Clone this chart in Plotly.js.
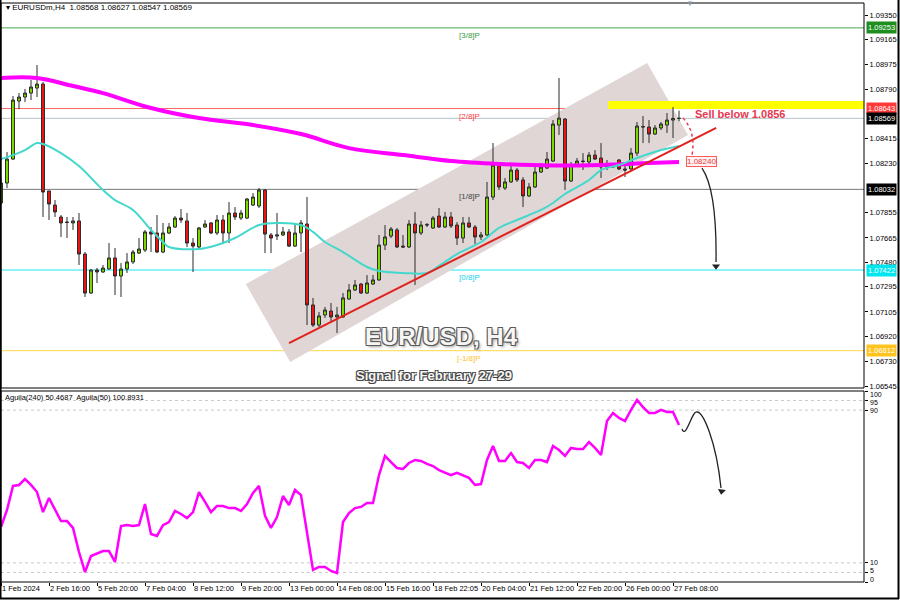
<!DOCTYPE html>
<html><head><meta charset="utf-8">
<script src="https://cdn.plot.ly/plotly-3.0.1.min.js"></script>
<style>html,body{margin:0;padding:0;background:#fff}#chart{width:900px;height:600px}</style>
</head><body><div id="chart"></div>
<script>
// ---- candle data (EURUSDm, H4) ----
const openP=[1.07929,1.08080,1.08261,1.08700,1.08730,1.08760,1.08798,1.08828,1.08020,1.07913,
1.07823,1.07785,1.07778,1.07793,1.07543,1.07248,1.07422,1.07407,1.07430,1.07513,
1.07377,1.07430,1.07483,1.07550,1.07573,1.07710,1.07702,1.07558,1.07702,1.07747,
1.07815,1.07793,1.07626,1.07596,1.07747,1.07778,1.07702,1.07800,1.07702,1.07853,
1.07815,1.07815,1.07913,1.07906,1.08027,1.07687,1.07679,1.07687,1.07710,1.07603,
1.07702,1.07770,1.07158,1.07006,1.07082,1.07112,1.07067,1.07067,1.07203,1.07271,
1.07316,1.07248,1.07316,1.07347,1.07611,1.07679,1.07725,1.07603,1.07596,1.07770,
1.07702,1.07762,1.07740,1.07830,1.07747,1.07823,1.07762,1.07664,1.07778,1.07747,
1.07672,1.07687,1.07974,1.08216,1.08042,1.08088,1.08178,1.08103,1.07982,1.08050,
1.08163,1.08193,1.08246,1.08518,1.08564,1.08095,1.08216,1.08246,1.08239,1.08291,
1.08269,1.08201,1.08216,1.08254,1.08186,1.08186,1.08306,1.08503,1.08503,1.08450,
1.08496,1.08518,1.08556,1.08568];
const highP=[1.08118,1.08314,1.08738,1.08760,1.08791,1.08859,1.08972,1.08844,1.08020,1.07951,
1.07838,1.07823,1.07823,1.07853,1.07558,1.07430,1.07437,1.07460,1.07626,1.07588,
1.07475,1.07550,1.07573,1.07664,1.07725,1.07747,1.07838,1.07778,1.07778,1.07830,
1.07883,1.07853,1.07664,1.07747,1.07800,1.07785,1.07838,1.07838,1.07936,1.07898,
1.07876,1.07966,1.08004,1.08042,1.08035,1.07702,1.07853,1.07747,1.07732,1.07778,
1.07800,1.07974,1.07211,1.07105,1.07143,1.07173,1.07143,1.07248,1.07316,1.07347,
1.07324,1.07384,1.07384,1.07687,1.07762,1.07747,1.07740,1.07687,1.07800,1.07861,
1.07793,1.07778,1.07830,1.07891,1.07861,1.07861,1.07785,1.07823,1.07823,1.07762,
1.07710,1.08088,1.08382,1.08231,1.08118,1.08231,1.08193,1.08125,1.08080,1.08201,
1.08231,1.08314,1.08556,1.08874,1.08571,1.08239,1.08269,1.08306,1.08314,1.08329,
1.08382,1.08254,1.08231,1.08261,1.08216,1.08344,1.08541,1.08586,1.08556,1.08518,
1.08541,1.08609,1.08654,1.08627];
const lowP=[1.07913,1.08042,1.08254,1.08639,1.08692,1.08707,1.08730,1.07823,1.07800,1.07823,
1.07672,1.07664,1.07725,1.07460,1.07218,1.07241,1.07324,1.07400,1.07425,1.07233,
1.07218,1.07400,1.07468,1.07543,1.07558,1.07558,1.07550,1.07550,1.07694,1.07740,
1.07778,1.07596,1.07407,1.07588,1.07740,1.07694,1.07687,1.07618,1.07626,1.07800,
1.07800,1.07808,1.07906,1.07891,1.07550,1.07550,1.07649,1.07679,1.07596,1.07596,
1.07558,1.07006,1.06991,1.06991,1.07060,1.07029,1.06946,1.07060,1.07196,1.07263,
1.07241,1.07241,1.07309,1.07340,1.07573,1.07664,1.07588,1.07588,1.07588,1.07309,
1.07687,1.07747,1.07732,1.07740,1.07740,1.07740,1.07611,1.07626,1.07740,1.07618,
1.07649,1.07679,1.07951,1.08027,1.08027,1.08080,1.08088,1.07898,1.07974,1.08042,
1.08156,1.08186,1.08239,1.08443,1.08027,1.08088,1.08208,1.08178,1.08201,1.08254,
1.08118,1.08178,1.08193,1.08178,1.08125,1.08178,1.08284,1.08382,1.08382,1.08443,
1.08480,1.08458,1.08420,1.08547];
const closeP=[1.08080,1.08261,1.08707,1.08730,1.08760,1.08806,1.08828,1.08012,1.07921,1.07861,
1.07778,1.07782,1.07793,1.07543,1.07248,1.07422,1.07407,1.07437,1.07513,1.07377,
1.07430,1.07483,1.07558,1.07581,1.07710,1.07694,1.07558,1.07702,1.07747,1.07815,
1.07800,1.07626,1.07603,1.07740,1.07770,1.07702,1.07800,1.07702,1.07853,1.07823,
1.07853,1.07959,1.07974,1.08027,1.07694,1.07664,1.07687,1.07710,1.07603,1.07702,
1.07778,1.07158,1.07006,1.07075,1.07120,1.07067,1.07082,1.07211,1.07271,1.07309,
1.07248,1.07324,1.07347,1.07611,1.07672,1.07732,1.07596,1.07596,1.07770,1.07702,
1.07762,1.07765,1.07815,1.07747,1.07823,1.07755,1.07664,1.07778,1.07747,1.07672,
1.07687,1.07974,1.08216,1.08050,1.08088,1.08178,1.08103,1.07982,1.08050,1.08163,
1.08201,1.08261,1.08526,1.08571,1.08095,1.08216,1.08246,1.08243,1.08291,1.08261,
1.08201,1.08224,1.08201,1.08186,1.08178,1.08306,1.08511,1.08506,1.08450,1.08496,
1.08526,1.08556,1.08568,1.08569];

// ---- moving averages (read at sample bars) ----
const maSlowIdx=[0,6,12,17,25,33,42,50,58,67,75,83,92,100,108,113];
const maSlowVal=[1.08874,1.08874,1.08813,1.08760,1.08647,1.08571,1.08518,1.08450,1.08344,1.08291,1.08246,1.08224,1.08212,1.08216,1.08231,1.08239];
const maFastIdx=[0,2,4,6,7,10,13,17,19,22,25,27,28,33,36,39,43,46,50,52,54,57,61,63,67,71,73,76,80,83,86,90,92,94,98,100,103,106,110,113];
const maFastVal=[1.08261,1.08291,1.08329,1.08382,1.08375,1.08306,1.08208,1.08027,1.07951,1.07876,1.07725,1.07634,1.07596,1.07581,1.07611,1.07664,1.07762,1.07778,1.07762,1.07710,1.07634,1.07558,1.07445,1.07415,1.07400,1.07400,1.07453,1.07543,1.07634,1.07740,1.07800,1.07876,1.07929,1.07997,1.08103,1.08178,1.08216,1.08269,1.08329,1.08360];

// ---- Aguila(50) oscillator ----
const aguila=[28.8,37.7,50.3,50.8,53.9,50.8,47.1,36.6,44.0,37.7,
31.9,31.9,28.3,15.7,5.2,13.6,14.7,16.2,16.2,10.5,
29.3,29.8,29.3,29.8,40.8,25.1,24.1,29.8,31.4,37.2,
35.6,33.5,36.6,47.1,41.9,36.6,39.8,39.8,38.7,38.7,
37.2,40.8,46.6,50.3,34.6,28.3,34.0,45.0,40.3,48.2,
45.5,25.7,6.3,7.9,7.9,5.8,4.7,31.4,36.1,38.7,
39.3,41.4,41.4,56.0,66.0,62.8,59.7,59.2,62.3,63.9,
63.4,61.8,60.7,58.6,57.1,56.0,57.1,56.0,54.5,50.8,
51.3,63.9,71.2,63.4,63.4,67.5,62.8,62.3,59.7,63.9,
63.9,62.8,71.2,69.1,66.0,70.2,69.6,69.6,73.3,70.2,
66.5,84.3,88.5,85.9,84.3,90.1,95.3,91.6,88.5,88.5,
90.1,89.0,89.0,82.2];

// ---- axes ----
const tickIdx=[0,8,16,24,32,40,48,56,64,72,80,88,96,104,112];
const tickText=['1 Feb 2024','2 Feb 16:00','5 Feb 20:00','7 Feb 04:00','8 Feb 12:00','9 Feb 20:00','13 Feb 00:00','14 Feb 08:00','15 Feb 16:00','18 Feb 22:05','20 Feb 04:00','21 Feb 12:00','22 Feb 20:00','26 Feb 00:00','27 Feb 08:00'];
const priceTicks=[1.06545,1.06730,1.06920,1.07105,1.07295,1.07480,1.07665,1.07855,1.08230,1.08415,1.08790,1.08975,1.09165,1.09350];
const indTicks=[0,5,10,90,95,100];
const indTickShift=[3,2,0,0,-2,-3];
const indLevels=[5,10,90,95];

// ---- Murrey levels ----
const levelVals=[1.09253,1.08643,1.08569,1.08032,1.07422,1.06812];
const levelNames=['[3/8]P','[2/8]P','','[1/8]P','[0/8]P','[-1/8]P'];
const levelLineColors=['#46a84e','#ff6464','#b9c0c8','#777777','#1ee8f0','#ffd84a'];
const levelBoxColors=['#1e8e1e','#ff3838','#000000','#000000','#00e6ee','#ffc41e'];
const levelTextColors=['#3a9a42','#ff4040','#000','#444444','#18d4ee','#ffc02a'];

const signalLevel=1.0856, targetLevel=1.08240;

// ---- geometry helpers (pixel -> paper) ----
const PL=1, PR=864, PT=3, PB=582;
const PX=px=>(px-PL)/(PR-PL);
const PY=py=>(PB-py)/(PB-PT);
const xMax=(PR-PL)/6;
const FONT='Liberation Sans, Arial, sans-serif';

const idx=openP.map((_,i)=>i);

// arrow tips of the hand-drawn arrows: [x index, value, axis, colour, angle]
const arrowTips=[[115.17,1.08262,'y','#e8384f',0],[119.17,1.07450,'y','#222',0],[120.1,47.5,'y2','#222',8]];

const traces=[
 {type:'candlestick',x:idx,open:openP,high:highP,low:lowP,close:closeP,xaxis:'x',yaxis:'y',
  increasing:{line:{color:'#2b2b2b',width:1},fillcolor:'#7ddc00'},
  decreasing:{line:{color:'#2b2b2b',width:1},fillcolor:'#f01414'},
  whiskerwidth:0,hoverinfo:'skip'},
 {type:'scatter',mode:'lines',x:maSlowIdx,y:maSlowVal,xaxis:'x',yaxis:'y',line:{color:'#ff00ff',width:4,shape:'spline'},hoverinfo:'skip'},
 {type:'scatter',mode:'lines',x:maFastIdx,y:maFastVal,xaxis:'x',yaxis:'y',line:{color:'#44d8cc',width:2,shape:'spline'},hoverinfo:'skip'},
 {type:'scatter',mode:'lines',x:idx,y:aguila,xaxis:'x',yaxis:'y2',line:{color:'#ff00ff',width:2.5},hoverinfo:'skip'}
];
arrowTips.forEach(t=>traces.push({type:'scatter',mode:'markers',x:[t[0]],y:[t[1]],xaxis:'x',yaxis:t[2],
 marker:{symbol:'triangle-down',size:7,color:t[3],angle:t[4],line:{width:0}},hoverinfo:'skip'}));

const shapes=[];
shapes.push({type:'path',xref:'x',yref:'y',layer:'below',
 path:'M 40.8,1.07316 L 48.2,1.06727 L 114.5,1.08443 L 107.7,1.08987 Z',
 fillcolor:'#e1d6d6',line:{width:0}});
shapes.push({type:'rect',xref:'x',yref:'y',layer:'below',x0:101.2,x1:xMax,y0:1.08639,y1:1.08700,fillcolor:'#ffff00',line:{width:0}});
levelVals.forEach((v,k)=>shapes.push({type:'line',xref:'paper',yref:'y',layer:'below',x0:0,x1:1,y0:v,y1:v,line:{color:levelLineColors[k],width:1}}));
indLevels.forEach(v=>shapes.push({type:'line',xref:'paper',yref:'y2',layer:'below',x0:0,x1:1,y0:v,y1:v,line:{color:'#c8c8c8',width:1,dash:'dot'}}));
shapes.push({type:'line',xref:'x',yref:'y',x0:48,y0:1.06870,x1:119.2,y1:1.08496,line:{color:'#e0221e',width:2}});
shapes.push({type:'path',xref:'x',yref:'y',path:'M 113.67,1.08571 Q 115.83,1.08466 115.17,1.08291',line:{color:'#e8384f',width:1.5,dash:'dot'}});
shapes.push({type:'path',xref:'x',yref:'y',path:'M 116.83,1.08193 Q 119.33,1.08027 119.17,1.07483',line:{color:'#222',width:1.3}});
shapes.push({type:'path',xref:'x',yref:'y2',path:'M 113.5,80.1 C 114.17,74.3 115.17,90.1 116,89.0 C 117,89.0 119.17,74.3 120,49.2',line:{color:'#222',width:1.3}});
shapes.push({type:'rect',xref:'paper',yref:'paper',x0:0,x1:1,y0:PY(388),y1:1,line:{color:'#000',width:1},fillcolor:'rgba(0,0,0,0)'});
shapes.push({type:'rect',xref:'paper',yref:'paper',x0:0,x1:1,y0:0,y1:PY(391),line:{color:'#000',width:1},fillcolor:'rgba(0,0,0,0)'});
shapes.push({type:'line',xref:'paper',yref:'paper',x0:PX(0.5),x1:PX(0.5),y0:PY(599),y1:PY(0),line:{color:'#000',width:2}});
shapes.push({type:'line',xref:'paper',yref:'paper',x0:PX(898.5),x1:PX(898.5),y0:PY(599),y1:PY(0),line:{color:'#000',width:2}});
shapes.push({type:'line',xref:'paper',yref:'paper',x0:PX(0),x1:PX(899),y0:PY(598.5),y1:PY(598.5),line:{color:'#000',width:2}});

const ann=[];
ann.push({xref:'paper',yref:'paper',x:PX(4),y:PY(8),xanchor:'left',yanchor:'middle',showarrow:false,
 text:'▾ EURUSDm,H4  '+openP[113].toFixed(5)+' '+highP[113].toFixed(5)+' '+lowP[113].toFixed(5)+' '+closeP[113].toFixed(5),font:{family:FONT,size:8,color:'#000'}});
ann.push({xref:'paper',yref:'paper',x:PX(690),y:PY(4),xanchor:'center',yanchor:'middle',showarrow:false,text:'▼',font:{family:FONT,size:8,color:'#8a96a8'}});
levelVals.forEach((v,k)=>{
 if(levelNames[k]) ann.push({xref:'paper',yref:'y',x:PX(469),y:v,yanchor:'top',yshift:-1,showarrow:false,text:levelNames[k],font:{family:FONT,size:8,color:levelTextColors[k]}});
 ann.push({xref:'paper',yref:'y',x:PX(866),y:v,xanchor:'left',yanchor:'middle',showarrow:false,text:v.toFixed(5),
  bgcolor:levelBoxColors[k],borderpad:1,font:{family:FONT,size:7.5,color:'#fff'}});
});
// x-axis labels (right of the tick mark, as in MT4)
tickIdx.forEach((t,k)=>ann.push({xref:'x',yref:'paper',x:t,y:PY(589),xanchor:'left',yanchor:'middle',xshift:-1,showarrow:false,
 text:tickText[k],font:{family:FONT,size:7.5,color:'#000'}}));
// oscillator scale labels
indTicks.forEach((t,k)=>ann.push({xref:'paper',yref:'y2',x:PX(868),y:t,xanchor:'left',yanchor:'middle',yshift:indTickShift[k],showarrow:false,
 text:String(t),font:{family:FONT,size:7,color:'#000'}}));
ann.push({xref:'paper',yref:'paper',x:PX(693),y:PY(114),xanchor:'left',yanchor:'middle',showarrow:false,
 text:'<b>Sell below '+signalLevel.toFixed(4)+'</b>',font:{family:FONT,size:11,color:'#e8384f'}});
ann.push({xref:'x',yref:'y',x:116.83,y:targetLevel,xanchor:'center',yanchor:'middle',showarrow:false,text:targetLevel.toFixed(5),
 bgcolor:'#fff2f2',bordercolor:'#ff5a5a',borderwidth:1,borderpad:0,font:{family:FONT,size:8,color:'#e83a3a'}});
const outline='-1px -1px 0 #5a5a5a, 1px -1px 0 #5a5a5a, -1px 1px 0 #5a5a5a, 1px 1px 0 #5a5a5a, 2px 2px 3px #9a9a9a';
ann.push({xref:'paper',yref:'paper',x:PX(441),y:PY(336),xanchor:'center',yanchor:'middle',showarrow:false,text:'<b>EUR/USD, H4</b>',
 font:{family:FONT,size:24,color:'#f6f6f6',shadow:outline}});
ann.push({xref:'paper',yref:'paper',x:PX(434),y:PY(375),xanchor:'center',yanchor:'middle',showarrow:false,text:'<b>Signal for February 27-29</b>',
 font:{family:FONT,size:13,color:'#f6f6f6',shadow:'-1px -1px 0 #444, 1px -1px 0 #444, -1px 1px 0 #444, 1px 1px 0 #444'}});
ann.push({xref:'paper',yref:'paper',x:PX(3),y:PY(397),xanchor:'left',yanchor:'middle',showarrow:false,
 text:'Aguila(240) 50.4687  Aguila(50) 100.8931',font:{family:FONT,size:7.5,color:'#000'}});

const layout={
 width:900,height:600,margin:{l:PL,r:900-PR,t:PT,b:600-PB},
 paper_bgcolor:'#fff',plot_bgcolor:'#fff',showlegend:false,
 font:{family:FONT,size:7.5,color:'#000'},
 xaxis:{anchor:'y2',range:[0,xMax],tickvals:tickIdx,showticklabels:false,ticks:'outside',ticklen:3,tickcolor:'#000',
  showgrid:false,zeroline:false,showline:false,rangeslider:{visible:false},fixedrange:true},
 yaxis:{domain:[PY(388),1],anchor:'x',side:'right',range:[1.06530,1.09441],tickvals:priceTicks,tickformat:'.5f',
  ticks:'outside',ticklen:3,tickcolor:'#000',tickfont:{family:FONT,size:7.5,color:'#000'},showgrid:false,zeroline:false,showline:false},
 yaxis2:{domain:[0,PY(391)],anchor:'x',side:'right',range:[0,100],tickvals:indTicks,showticklabels:false,
  ticks:'outside',ticklen:3,tickcolor:'#000',showgrid:false,zeroline:false,showline:false},
 shapes:shapes,annotations:ann
};
Plotly.newPlot('chart',traces,layout,{displayModeBar:false,staticPlot:true});
</script></body></html>
